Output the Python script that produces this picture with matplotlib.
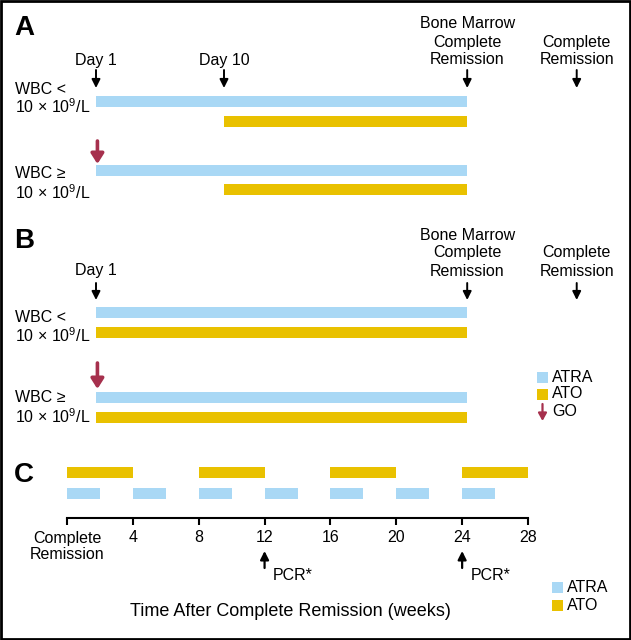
import numpy as np
import matplotlib
matplotlib.use('Agg')
from matplotlib import pyplot as plt
from matplotlib.patches import Rectangle

plt.rcParams['font.family'] = ['Liberation Sans', 'DejaVu Sans']
plt.rcParams['mathtext.fontset'] = 'custom'
plt.rcParams['mathtext.rm'] = 'Liberation Sans'

# colours
ATRA_COLOR = '#A9D8F5'
ATO_COLOR = '#E9C100'
GO_COLOR = '#A6304D'

# Panels A/B: schematic timeline (Day 1 .. remission milestones)
milestone_labels = ['Day 1', 'Day 10', 'Bone Marrow\nComplete\nRemission', 'Complete\nRemission']
milestone_pos = [1, 10, 27.1, 34.8]
milestones_a = [0, 1, 2, 3]
milestones_b = [0, 2, 3]

# start / end of each drug (schematic days)
atra_a = (1, 27.1)
ato_a = (10, 27.1)
atra_b = (1, 27.1)
ato_b = (1, 27.1)

wbc_labels = ['WBC <', 'WBC \u2265']
wbc_sub = '10 \u00d7 $\\mathregular{10^9}$/L'

# Panel C: consolidation (weeks)
ato_c_starts = [0, 8, 16, 24]
ato_c_len = 4
atra_c_starts = [0, 4, 8, 12, 16, 20, 24]
atra_c_len = 2
pcr_weeks = [12, 24]
c_ticks = [0, 4, 8, 12, 16, 20, 24, 28]
c_ticklabels = ['Complete\nRemission', '4', '8', '12', '16', '20', '24', '28']

FS = 11.5

fig = plt.figure(figsize=(6.31, 6.40), dpi=100)

# layout axes in pixel coordinates
ax = fig.add_axes([0, 0, 1, 1])
ax.set_xlim(0, 631)
ax.set_ylim(640, 0)
ax.axis('off')

# schematic timeline axes for A and B (x in schematic days, y in pixels)
px_per_day = 128 / 9
ax_ab = fig.add_axes([0, 0, 1, 1])
ax_ab.set_xlim(1 - 96 / px_per_day, 1 + 535 / px_per_day)
ax_ab.set_ylim(640, 0)
ax_ab.axis('off')
ax_ab.patch.set_alpha(0)


def arrow(a, x, y0, y1, color='black', lw=1.4, hw=0.25, hl=0.5):
    a.annotate('', xy=(x, y1), xytext=(x, y0),
               arrowprops=dict(arrowstyle='-|>,head_length=%s,head_width=%s' % (hl, hw),
                               color=color, lw=lw, shrinkA=0, shrinkB=0),
               annotation_clip=False)


def draw_panel(letter, letter_y, milestones, label_y, arrow_y, rows, atra, ato):
    ax.text(14, letter_y, letter, fontsize=20, fontweight='bold', ha='left', va='center')
    for i in milestones:
        x = milestone_pos[i]
        lines = milestone_labels[i].split('\n')[::-1]
        for k, line in enumerate(lines):
            ax_ab.text(x, label_y - 18 * k, line, fontsize=FS, ha='center', va='center')
        arrow(ax_ab, x, arrow_y[0], arrow_y[1])
    for j, (y_atra, y_ato, ly, go) in enumerate(rows):
        ax_ab.barh(y_atra, atra[1] - atra[0], left=atra[0], height=11, color=ATRA_COLOR)
        ax_ab.barh(y_ato, ato[1] - ato[0], left=ato[0], height=11, color=ATO_COLOR)
        ax.text(15, ly[0], wbc_labels[j], fontsize=FS, ha='left', va='center')
        ax.text(15, ly[1], wbc_sub, fontsize=FS, ha='left', va='center')
        if go is not None:
            arrow(ax_ab, milestone_pos[0] + 0.1, go[0], go[1], color=GO_COLOR, lw=2.6, hw=0.38, hl=0.6)


draw_panel('A', 28, milestones_a, 60, (70, 88),
           [(101.5, 121, (89, 107), None), (170, 189, (174, 193), (141, 164))],
           atra_a, ato_a)
draw_panel('B', 241, milestones_b, 271, (283, 300),
           [(312, 332, (317, 336), None), (397, 417, (398, 417), (363, 389))],
           atra_b, ato_b)

# legend B
ax.add_patch(Rectangle((537, 371.5), 11, 11, color=ATRA_COLOR, lw=0))
ax.add_patch(Rectangle((537, 388.5), 11, 11, color=ATO_COLOR, lw=0))
arrow(ax, 542.5, 404, 421, color=GO_COLOR, lw=1.6, hw=0.25, hl=0.45)
ax.text(552, 377, 'ATRA', fontsize=FS, ha='left', va='center')
ax.text(552, 394, 'ATO', fontsize=FS, ha='left', va='center')
ax.text(552, 412, 'GO', fontsize=FS, ha='left', va='center')

# Panel C
ax.text(14, 475, 'C', fontsize=20, fontweight='bold', ha='left', va='center')
px_per_week = (528 - 67) / 28
ax_c = fig.add_axes([67 / 631, (640 - 518) / 640, 461 / 631, 58 / 640])
ax_c.patch.set_alpha(0)
ax_c.set_xlim(0, 28)
ax_c.set_ylim(0, 58)
for s in ['top', 'left', 'right']:
    ax_c.spines[s].set_visible(False)
ax_c.spines['bottom'].set_linewidth(1.5)
ax_c.set_yticks([])
ax_c.set_xticks(c_ticks)
ax_c.set_xticklabels(c_ticklabels, fontsize=FS, linespacing=1.15)
ax_c.tick_params(axis='x', direction='out', length=5, width=1.5, pad=4)
ax_c.barh(46, ato_c_len, left=ato_c_starts, height=11, align='center', color=ATO_COLOR)
ax_c.barh(24.5, atra_c_len, left=atra_c_starts, height=11, align='center', color=ATRA_COLOR)
for w in pcr_weeks:
    arrow(ax_c, w, -50, -33, lw=1.6)
    ax_c.text(w + 0.5, -58, 'PCR*', fontsize=FS, ha='left', va='center', clip_on=False)

ax.text(290, 611, 'Time After Complete Remission (weeks)', fontsize=13, ha='center', va='center')

# legend C
ax.add_patch(Rectangle((552, 581.5), 11, 11, color=ATRA_COLOR, lw=0))
ax.add_patch(Rectangle((552, 599.5), 11, 11, color=ATO_COLOR, lw=0))
ax.text(567, 587, 'ATRA', fontsize=FS, ha='left', va='center')
ax.text(567, 605, 'ATO', fontsize=FS, ha='left', va='center')

# frame
ax.add_patch(Rectangle((1, 1), 629, 638, fill=False, ec='black', lw=2))

fig.savefig('out.png', dpi=100)
